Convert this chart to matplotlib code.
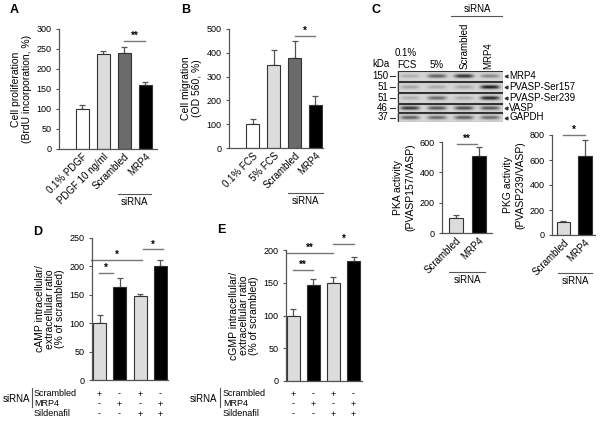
import numpy as np
import matplotlib
matplotlib.use("Agg")
import matplotlib.pyplot as plt
from matplotlib.patches import Rectangle

plt.rcParams['font.family'] = ['Liberation Sans', 'DejaVu Sans']
plt.rcParams['font.size'] = 7

W, H = 606, 429

# ---- data ----
a_labels = ['0.1% PDGF', 'PDGF 10 ng/ml', 'Scrambled', 'MRP4']
a_vals = [100, 237, 239, 160]
a_err = [10, 9, 17, 7]

b_labels = ['0.1% FCS', '5% FCS', 'Scrambled', 'MRP4']
b_vals = [100, 348, 380, 180]
b_err = [20, 62, 70, 40]

pka_labels = ['Scrambled', 'MRP4']
pka_vals = [100, 505]
pka_err = [18, 65]

pkg_vals = [105, 630]
pkg_err = [7, 130]

d_vals = [100, 163, 148, 200]
d_err = [14, 17, 4, 11]

e_vals = [100, 146, 150, 183]
e_err = [10, 9, 9, 6]

table_rows = ['Scrambled', 'MRP4', 'Sildenafil']
table_signs = [['+', '-', '+', '-'],
               ['-', '+', '-', '+'],
               ['-', '-', '+', '+']]

blot_rows = ['MRP4', 'PVASP-Ser157', 'PVASP-Ser239', 'VASP', 'GAPDH']
blot_kda = ['150', '51', '51', '46', '37']
# band darkness per lane: 0.1% FCS, 5%, Scrambled, MRP4
blot_bands = [[0.20, 0.60, 0.85, 0.40],
              [0.25, 0.22, 0.25, 0.95],
              [0.20, 0.55, 0.22, 0.90],
              [0.80, 0.65, 0.70, 0.65],
              [0.60, 0.55, 0.60, 0.55]]

four_colors = ['#ffffff', '#dcdcdc', '#6b6b6b', '#000000']
de_colors = ['#dcdcdc', '#000000', '#dcdcdc', '#000000']

TICK = 6.5
LAB = 7.5
XT = 7

fig = plt.figure(figsize=(W / 100, H / 100), dpi=100)


def px_axes(x0, y0, x1, y1):
    return fig.add_axes([x0 / W, 1 - y1 / H, (x1 - x0) / W, (y1 - y0) / H])


ov = fig.add_axes([0, 0, 1, 1])
ov.set_xlim(0, W)
ov.set_ylim(H, 0)
ov.axis('off')


def bar_panel(box, vals, errs, colors, xlim, ymax, ystep, width=0.62):
    ax = px_axes(*box)
    x = np.arange(len(vals))
    ax.bar(x, vals, width=width, color=colors, edgecolor='#333333', linewidth=0.8, zorder=2)
    ax.errorbar(x, vals, yerr=[np.zeros(len(vals)), errs], fmt='none',
                ecolor='#555555', elinewidth=0.9, capsize=2, capthick=0.9, zorder=1)
    ax.set_xlim(*xlim)
    ax.set_ylim(0, ymax)
    ax.set_yticks(np.arange(0, ymax + 1, ystep))
    for s in ['top', 'right']:
        ax.spines[s].set_visible(False)
    for s in ['left', 'bottom']:
        ax.spines[s].set_color('#555555')
        ax.spines[s].set_linewidth(0.9)
    ax.tick_params(axis='y', length=2.5, width=0.8, color='#555555', pad=3, labelsize=TICK)
    ax.tick_params(axis='x', length=0)
    ax.set_facecolor('none')
    return ax


def sig(ax, x0, x1, y, txt):
    ax.plot([x0, x1], [y, y], color='#777777', lw=1, clip_on=False)
    ax.text((x0 + x1) / 2, y, txt, ha='center', va='bottom', fontsize=7,
            fontweight='bold', clip_on=False)


def rot_labels(ax, labels):
    ax.set_xticks(np.arange(len(labels)))
    ax.set_xticklabels(labels, rotation=45, ha='right', rotation_mode='anchor', fontsize=XT)
    ax.tick_params(axis='x', pad=2)


def sirna(x0, x1, y):
    ov.plot([x0, x1], [y, y], color='#555555', lw=0.8)
    ov.text((x0 + x1) / 2, y + 3, 'siRNA', ha='center', va='top', fontsize=7)


# ---- Panel A ----
ax = bar_panel((59, 29, 157, 149), a_vals, a_err, four_colors, (-1.1, 3.57), 300, 50)
rot_labels(ax, a_labels)
sig(ax, 2, 3, 270, '**')
ax.set_ylabel('Cell proliferation\n(BrdU incorporation, %)', fontsize=LAB, labelpad=3)
sirna(118, 151, 194)
ov.text(10, 10, 'A', fontsize=9, fontweight='bold', ha='left', va='center')

# ---- Panel B ----
ax = bar_panel((229, 29, 323, 148), b_vals, b_err, four_colors, (-1.15, 3.37), 500, 100)
rot_labels(ax, b_labels)
sig(ax, 2, 3, 470, '*')
ax.set_ylabel('Cell migration\n(OD 560, %)', fontsize=LAB, labelpad=3)
sirna(288, 323, 193)
ov.text(181, 10, 'B', fontsize=9, fontweight='bold', ha='left', va='center')

# ---- Panel C blot ----
ov.text(371, 10, 'C', fontsize=9, fontweight='bold', ha='left', va='center')
ov.text(477, 9, 'siRNA', ha='center', va='center', fontsize=7)
ov.plot([451, 502], [16, 16], color='#555555', lw=0.8)
ov.text(381, 64, 'kDa', ha='center', va='center', fontsize=7)
ov.text(406, 53, '0.1%', ha='center', va='center', fontsize=7)
ov.text(407, 65, 'FCS', ha='center', va='center', fontsize=7)
ov.text(437, 65, '5%', ha='center', va='center', fontsize=7)
ov.text(465, 69, 'Scrambled', rotation=90, ha='center', va='bottom', fontsize=7)
ov.text(488, 69, 'MRP4', rotation=90, ha='center', va='bottom', fontsize=7)

bx0, bx1 = 397, 503
row_y = [(71, 81), (82, 92), (93, 103), (104, 112), (113, 122)]
lane_x = [410, 437, 464, 490]
by0, by1 = 71, 122
sc = 4
nx, ny = (bx1 - bx0) * sc, (by1 - by0) * sc
xx = bx0 + (np.arange(nx) + 0.5) / sc
yy = by0 + (np.arange(ny) + 0.5) / sc
X, Y = np.meshgrid(xx, yy)
img = np.ones((ny, nx))
for r, (ya, yb) in enumerate(row_y):
    inside = (Y >= ya) & (Y <= yb)
    img[inside] = 0.84
    yc = (ya + yb) / 2
    for l, cx in enumerate(lane_x):
        gx = np.exp(-((X - cx) / 9.5) ** 4)
        gy = np.exp(-((Y - yc) / 1.9) ** 2)
        img[inside] -= (blot_bands[r][l] * 0.78 * gx * gy)[inside]
blot_ax = px_axes(bx0, by0, bx1, by1)
blot_ax.imshow(img, extent=(bx0, bx1, by1, by0), cmap='gray', vmin=0, vmax=1,
               aspect='auto', interpolation='bilinear')
blot_ax.set_xlim(bx0, bx1)
blot_ax.set_ylim(by1, by0)
blot_ax.axis('off')
for (ya, yb) in row_y:
    blot_ax.add_patch(Rectangle((bx0 + 0.5, ya), bx1 - bx0 - 1, yb - ya, fill=False,
                                edgecolor='#333333', lw=0.8))
for r, (ya, yb) in enumerate(row_y):
    yc = (ya + yb) / 2
    ov.text(388, yc, blot_kda[r], ha='right', va='center', fontsize=7)
    ov.plot([390, 395], [yc, yc], color='#333333', lw=0.8)
    ov.plot([506], [yc], marker='<', ms=2, color='#333333')
    ov.text(509, yc, blot_rows[r], ha='left', va='center', fontsize=7)

# ---- PKA ----
ax = bar_panel((442, 142, 492, 233), pka_vals, pka_err, ['#dcdcdc', '#000000'],
               (-0.61, 1.57), 600, 200, width=0.6)
rot_labels(ax, pka_labels)
sig(ax, 0.04, 0.91, 590, '**')
ax.set_ylabel('PKA activity\n(PVASP157/VASP)', fontsize=LAB, labelpad=3)
sirna(449, 485, 272)

# ---- PKG ----
ax = bar_panel((552, 135, 595, 235), pkg_vals, pkg_err, ['#dcdcdc', '#000000'],
               (-0.53, 1.47), 800, 200, width=0.63)
rot_labels(ax, pka_labels)
sig(ax, 0, 1, 800, '*')
ax.set_ylabel('PKG activity\n(PVASP239/VASP)', fontsize=LAB, labelpad=3)
sirna(558, 592, 273)


def table(x_label, x_line, x_rows, centers, ha):
    ys = [393, 403, 413]
    ov.text(x_label, 399, 'siRNA', ha=ha, va='center', fontsize=7)
    ov.plot([x_line, x_line], [388, 407], color='#555555', lw=0.8)
    for i, name in enumerate(table_rows):
        ov.text(x_rows, ys[i], name, ha='left', va='center', fontsize=6.5)
        for j, cx in enumerate(centers):
            ov.text(cx, ys[i] + 1, table_signs[i][j], ha='center', va='center', fontsize=6.5)


# ---- Panel D ----
ax = bar_panel((92, 238, 168, 380), d_vals, d_err, de_colors, (-0.37, 3.37), 250, 50, width=0.64)
ax.set_xticks([])
sig(ax, -0.02, 0.67, 188, '*')
sig(ax, -0.42, 2.09, 211, '*')
sig(ax, 2.14, 3.13, 230, '*')
ax.set_ylabel('cAMP intracellular/\nextracellular ratio\n(% of scrambled)', fontsize=LAB,
              labelpad=3, linespacing=1.0)
ov.text(33, 232, 'D', fontsize=9, fontweight='bold', ha='left', va='center')
table(3, 32, 34, [99.5, 119.5, 140, 160.5], 'left')

# ---- Panel E ----
ax = bar_panel((286, 250, 362, 381), e_vals, e_err, de_colors, (-0.35, 3.42), 200, 50, width=0.64)
ax.set_xticks([])
sig(ax, 0, 1, 169, '**')
sig(ax, -0.3, 2, 195, '**')
sig(ax, 2, 3, 209, '*')
ax.set_ylabel('cGMP intracellular/\nextracellular ratio\n(% of scrambled)', fontsize=LAB,
              labelpad=3, linespacing=1.0)
ov.text(217, 230, 'E', fontsize=9, fontweight='bold', ha='left', va='center')
table(217, 220, 223, [293, 313, 333.5, 353.5], 'right')

fig.savefig('out.png', dpi=100)
